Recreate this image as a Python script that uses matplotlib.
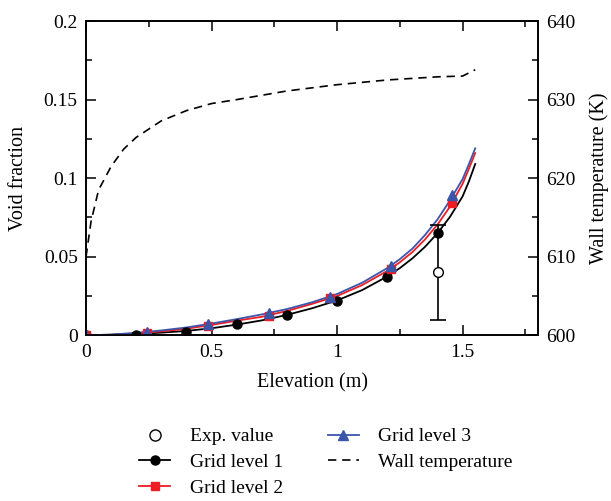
import numpy as np
import matplotlib
matplotlib.use('Agg')
import matplotlib.pyplot as plt
from matplotlib.ticker import MultipleLocator, FuncFormatter

plt.rcParams['font.family'] = ['Liberation Serif', 'DejaVu Serif']
plt.rcParams['font.size'] = 14

# experimental value with error bar
exp_x = [1.4]
exp_y = [0.04]
exp_err_lo = [0.03]
exp_err_hi = [0.03]

# marker points
g1_x = [0.0, 0.2, 0.4, 0.6, 0.8, 1.0, 1.2, 1.4]
g1_y = [0.0, 0.0003, 0.0023, 0.0072, 0.0129, 0.022, 0.0373, 0.0649]
g2_x = [0.0, 0.243, 0.486, 0.729, 0.972, 1.215, 1.458]
g2_y = [0.0, 0.0017, 0.0062, 0.0125, 0.0235, 0.0422, 0.0844]
g3_x = [0.0, 0.243, 0.486, 0.729, 0.972, 1.215, 1.458]
g3_y = [0.0, 0.0023, 0.0072, 0.014, 0.0246, 0.044, 0.0893]

# curves
curve_x = [0.0, 0.1, 0.2, 0.3, 0.4, 0.5, 0.6, 0.7, 0.8, 0.9, 1.0, 1.1, 1.2, 1.25, 1.3,
           1.35, 1.4, 1.45, 1.5, 1.525, 1.55]
g1_curve = [0.0, 0.0003, 0.0009, 0.0017, 0.0028, 0.0045, 0.0068, 0.0095, 0.013, 0.0172,
            0.0222, 0.0288, 0.0375, 0.0428, 0.049, 0.0563, 0.065, 0.0755, 0.0885, 0.098, 0.109]
g2_curve = [0.0, 0.0004, 0.0012, 0.0025, 0.0042, 0.0066, 0.0093, 0.0118, 0.0155, 0.020,
            0.025, 0.032, 0.041, 0.0465, 0.053, 0.061, 0.0705, 0.082, 0.0965, 0.106, 0.116]
g3_curve = [0.0, 0.0005, 0.0016, 0.0031, 0.005, 0.0075, 0.0103, 0.0133, 0.0167, 0.021,
            0.0263, 0.0335, 0.0428, 0.0485, 0.0552, 0.0638, 0.0738, 0.086, 0.0995, 0.109, 0.119]

# wall temperature (K)
wall_x = [0.0, 0.02, 0.05, 0.1, 0.15, 0.2, 0.3, 0.4, 0.5, 0.6, 0.8, 1.0, 1.2, 1.4, 1.5, 1.55]
wall_T = [610.0, 614.5, 618.5, 621.5, 623.7, 625.2, 627.3, 628.6, 629.5, 630.0, 631.1,
          631.9, 632.5, 632.9, 633.0, 633.8]

red = '#ee1c25'
blue = '#3b55a8'

fig = plt.figure(figsize=(6.11, 5.01), dpi=100)
ax = fig.add_axes([0.1408, 0.3307, 0.7397, 0.6273])
ax2 = ax.twinx()

ax.plot(curve_x, g1_curve, color='black', lw=1.3, zorder=3)
ax.plot(curve_x, g2_curve, color=red, lw=1.3, zorder=3)
ax.plot(curve_x, g3_curve, color=blue, lw=1.3, zorder=3)
ax.plot(g1_x, g1_y, 'o', color='black', ms=6.5, zorder=4)
ax.plot(g2_x, g2_y, 's', color=red, ms=5.5, zorder=5)
ax.plot(g3_x, g3_y, '^', color=blue, ms=6.5, zorder=6)
ax.errorbar(exp_x, exp_y, yerr=[exp_err_lo, exp_err_hi], fmt='o', mfc='white', mec='black',
            ms=7, color='black', elinewidth=1.2, capsize=6, capthick=1.2, zorder=7)

ax2.plot(wall_x, wall_T, color='black', lw=1.2, dashes=(5, 3.5))

ax.set_xlim(0, 1.8)
ax.set_ylim(0, 0.2)
ax2.set_ylim(600, 640)

fmt = FuncFormatter(lambda v, p: '%g' % v)
ax.xaxis.set_major_locator(MultipleLocator(0.5))
ax.xaxis.set_minor_locator(MultipleLocator(0.25))
ax.xaxis.set_major_formatter(fmt)
ax.yaxis.set_major_locator(MultipleLocator(0.05))
ax.yaxis.set_minor_locator(MultipleLocator(0.025))
ax.yaxis.set_major_formatter(fmt)
ax2.yaxis.set_major_locator(MultipleLocator(10))
ax2.yaxis.set_minor_locator(MultipleLocator(5))

ax.tick_params(which='both', direction='in', top=True, right=False, labelsize=14, pad=6)
ax.tick_params(which='major', length=7, width=1.1)
ax.tick_params(which='minor', length=4.5, width=1.1)
ax2.tick_params(which='both', direction='in', labelsize=14, pad=6)
ax2.tick_params(which='major', length=7, width=1.1)
ax2.tick_params(which='minor', length=4.5, width=1.1)

for a in (ax, ax2):
    for s in a.spines.values():
        s.set_linewidth(1.2)

ax.set_xlabel('Elevation (m)', fontsize=14.5, labelpad=9)
ax.set_ylabel('Void fraction', fontsize=14.5, labelpad=11)
ax2.set_ylabel('Wall temperature (K)', fontsize=14.5, labelpad=10)

h_exp = plt.Line2D([], [], ls='none', marker='o', mfc='white', mec='black', ms=8)
h_g1 = plt.Line2D([], [], color='black', lw=1.3, marker='o', ms=6.5)
h_g2 = plt.Line2D([], [], color=red, lw=1.3, marker='s', ms=5.5)
h_g3 = plt.Line2D([], [], color=blue, lw=1.3, marker='^', ms=6.5)
h_wall = plt.Line2D([], [], color='black', lw=1.2, dashes=(5, 3.5))
fig.legend([h_exp, h_g1, h_g2, h_g3, h_wall],
           ['Exp. value', 'Grid level 1', 'Grid level 2', 'Grid level 3', 'Wall temperature'],
           ncol=2, loc='upper left', bbox_to_anchor=(0.228, 0.146), frameon=False,
           fontsize=14, handlelength=1.6, labelspacing=0.42, columnspacing=2.3,
           handletextpad=1.0, borderaxespad=0, borderpad=0)

fig.savefig('out.png', dpi=100)
